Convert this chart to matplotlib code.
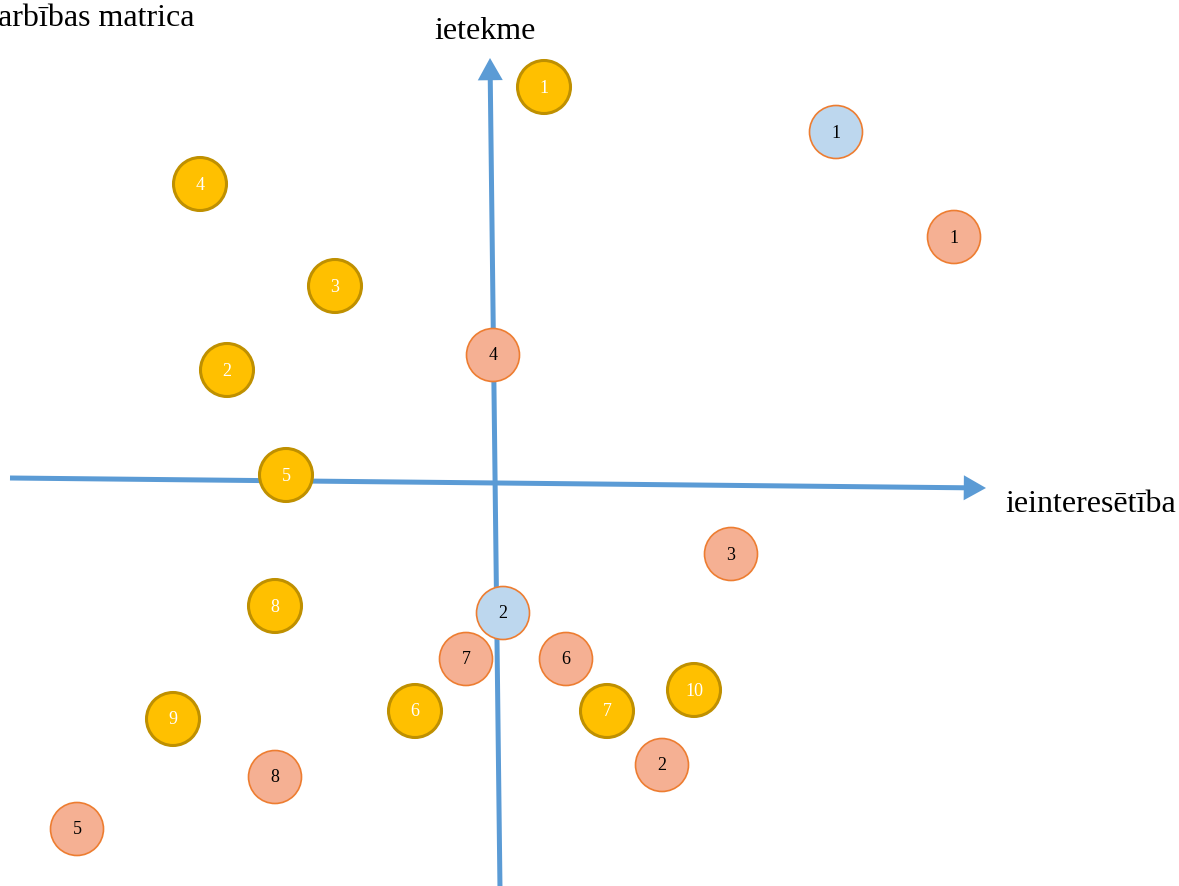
import matplotlib.pyplot as plt
from matplotlib.patches import Circle

# circle centres in picture pixels (x right, y down) and their numbers
gold_x = [544, 200, 335, 227, 286, 275, 173, 415, 607, 694]
gold_y = [87, 184, 286, 370, 475, 606, 719, 711, 711, 690]
gold_lbl = ['1', '4', '3', '2', '5', '8', '9', '6', '7', '10']

salmon_x = [954, 493, 731, 466, 566, 662, 275, 77]
salmon_y = [237, 355, 554, 659, 659, 765, 777, 829]
salmon_lbl = ['1', '4', '3', '7', '6', '2', '8', '5']

blue_x = [836, 503]
blue_y = [132, 613]
blue_lbl = ['1', '2']

W, H = 1179, 886
fig = plt.figure(figsize=(W / 100, H / 100), dpi=100)
ax = fig.add_axes([0, 0, 1, 1])
ax.set_xlim(0, W)
ax.set_ylim(H, 0)
ax.axis('off')

axis_col = '#5B9BD5'
arrow = dict(width=3.6, headwidth=18, headlength=16, color=axis_col, lw=0)
ax.annotate('', xy=(986, 488), xytext=(10, 478), arrowprops=arrow, zorder=1)
ax.annotate('', xy=(490, 58), xytext=(500, 890), arrowprops=arrow, zorder=1)

serif = 'Liberation Serif'
ax.text(-2, 18, 'arbības matrica', fontsize=23, family=serif, ha='left', va='center')
ax.text(485, 31, 'ietekme', fontsize=23, family=serif, ha='center', va='center')
ax.text(1005, 504, 'ieinteresētība', fontsize=23, family=serif, ha='left', va='center')

r = 26.5


def draw(xs, ys, labels, face, edge, tcol, lw):
    for x, y, t in zip(xs, ys, labels):
        ax.add_patch(Circle((x, y), r, facecolor=face, edgecolor=edge, lw=lw, zorder=3))
        ax.text(x, y + 1, t, fontsize=13, family=serif, color=tcol,
                ha='center', va='center', zorder=4)


draw(gold_x, gold_y, gold_lbl, '#FFC000', '#BF9000', 'white', 2.2)
draw(salmon_x, salmon_y, salmon_lbl, '#F5B093', '#ED7D31', 'black', 1.2)
draw(blue_x, blue_y, blue_lbl, '#BDD7EE', '#ED7D31', 'black', 1.2)

fig.savefig('out.png', dpi=100)
